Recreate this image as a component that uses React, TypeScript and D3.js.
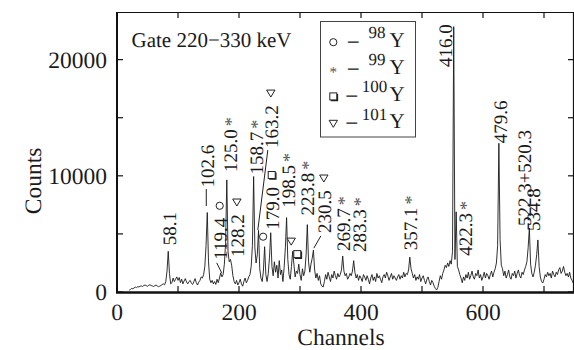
import React, { useEffect, useRef } from 'react';
import * as d3 from 'd3';

// spectrum: counts every 2nd channel, starting at channel 20
const firstChannel = 20;
const channelStep = 2;
const counts = [
  // 20-38
  150, 220, 300, 280, 350, 420, 380, 460, 430, 500,
  // 40-58
  520, 480, 560, 600, 540, 500, 580, 620, 560, 520,
  // 60-78
  480, 540, 600, 520, 460, 500, 560, 640, 700, 620,
  // 80-98
  900, 1800, 3500, 1600, 700, 800, 1200, 900, 1100, 1300,
  // 100-118
  1000, 1250, 800, 1100, 700, 950, 1150, 850, 700, 900,
  // 120-138
  1000, 750, 650, 900, 1150, 800, 600, 850, 1000, 1300,
  // 140-158
  1200, 1500, 2200, 4000, 6840, 2600, 1100, 800, 1000, 700,
  // 160-178
  900, 650, 1100, 800, 1200, 1650, 1300, 1500, 2400, 4200,
  // 180-198
  9650, 3500, 2600, 2800, 2300, 1400, 900, 700, 1000, 600,
  // 200-218
  800, 1100, 700, 500, 900, 1200, 800, 1000, 1300, 1500,
  // 220-238
  2200, 4000, 9940, 3800, 2500, 3200, 5300, 2000, 1200, 900,
  // 240-258
  1800, 3900, 1500, 900, 1600, 3000, 5100, 2200, 1400, 2600,
  // 260-278
  1700, 2300, 1200, 2700, 1500, 1900, 900, 2100, 3800, 6400,
  // 280-298
  2800, 1500, 1100, 2200, 3500, 2400, 1300, 1800, 1600, 2400,
  // 300-318
  1500, 1000, 2000, 1400, 1800, 3200, 5800, 2600, 1700, 2400,
  // 320-338
  2900, 3600, 1900, 1200, 1600, 1000, 1400, 700, 500, 430,
  // 340-358
  900, 1500, 1100, 1700, 1300, 900, 1500, 1200, 1800, 1400,
  // 360-378
  1100, 1600, 1300, 1500, 1900, 3100, 1800, 1400, 1600, 1100,
  // 380-398
  1300, 1600, 1400, 1800, 2700, 1700, 1200, 1500, 1000, 1400,
  // 400-418
  1200, 900, 1500, 1300, 1000, 1400, 1100, 700, 1200, 1500,
  // 420-438
  1000, 1300, 900, 1600, 1200, 1400, 1100, 800, 1300, 1500,
  // 440-458
  1200, 1700, 1400, 1000, 1300, 1600, 1100, 1400, 1200, 1000,
  // 460-478
  1300, 1500, 1100, 1400, 1200, 1700, 1300, 1600, 1500, 1900,
  // 480-498
  3000, 2000, 1600, 1200, 1500, 1000, 1300, 1100, 1500, 900,
  // 500-518
  1200, 1400, 1000, 700, 1100, 1300, 900, 600, 1000, 800,
  // 520-538
  500, 300, 170, 400, 900, 1400, 1100, 1600, 1900, 2300,
  // 540-558
  2100, 2500, 2200, 2700, 2400, 3500, 22840, 2800, 6900, 2200,
  // 560-578
  1900, 1500, 1200, 800, 1300, 1000, 1500, 1200, 1700, 1100,
  // 580-598
  1400, 1800, 1300, 1100, 1600, 1400, 1900, 1200, 1500, 1000,
  // 600-618
  1300, 1700, 1200, 1600, 1400, 1100, 1500, 1800, 1300, 1700,
  // 620-638
  2000, 2500, 4000, 12800, 4500, 2300, 2000, 1400, 1800, 1200,
  // 640-658
  1500, 1900, 1300, 1100, 1600, 1400, 1800, 1200, 1600, 1900,
  // 660-678
  1400, 1200, 1700, 1500, 1900, 2200, 2600, 3800, 5500, 2400,
  // 680-698
  1600, 1300, 1700, 2300, 3200, 4480, 2200, 1300, 900, 770,
  // 700-718
  1100, 1500, 1300, 1700, 1400, 1600, 1200, 1800, 1500, 1300,
  // 720-738
  1700, 1500, 1900, 2100, 1600, 1800, 2200, 1700, 1400, 1600,
  // 740-748
  1300, 1700, 1200, 1000, 770,
];

const xMajorTicks = [0, 200, 400, 600];
const xMinorTicks = [100, 300, 500, 700];
const yMajorTicks = [0, 10000, 20000];
const yMinorTicks = [5000, 15000];

// labelled peaks (energy in keV), their channel and isotope mark
const peakLabels = ['58.1', '102.6', '119.4', '125.0', '128.2', '158.7', '163.2', '179.0', '198.5', '223.8',
  '230.5', '269.7', '283.3', '357.1', '416.0', '422.3', '479.6', '522.3+520.3', '534.8'];
const peakChannels = [84, 148, 170, 180, 186, 224, 232, 252, 278, 312, 322, 370, 388, 480, 552, 556, 626, 676, 690];
const peakMarks = ['', '', 'circle', 'asterisk', 'triangle', 'asterisk', 'triangle', 'square', 'asterisk', 'asterisk',
  'triangle', 'asterisk', 'asterisk', 'asterisk', '', 'asterisk', '', '', ''];

// marks without a label
const looseMarkChannels = [242, 288, 298];
const looseMarks = ['circle', 'triangle', 'square'];

const legendMarks = ['circle', 'asterisk', 'square', 'triangle'];
const legendMasses = ['98', '99', '100', '101'];

const gateText = 'Gate 220\u2212330 keV';

// label placement relative to the peak top (layout only)
const labelNudge: [number, number][] = [
  [7.7, -6], [6.6, -25], [6, -13], [10, -8], [13.4, -2.5], [9, -2], [19.3, -82.4], [8, -3], [8, -10], [6.5, -9],
  [17.4, -17.2], [7, -5], [12, -8.6], [7, -7], [-2, 40.4], [15.5, 44], [8, 0], [2, -2], [2.5, -9],
];
const leaderLines: Record<string, [number, number, number, number]> = {
  '102.6': [-1, -23.5, -1, -6.5],
  '119.4': [-4, -10, 1, 0],
  '163.2': [9.3, -80.4, -0.7, -0.4],
  '230.5': [7.4, -14.2, 0.4, -2],
};

const FONT = '"Liberation Serif", "Times New Roman", Times, serif';

const drawMark = (g: any, kind: string, cx: number, cy: number) => {
  if (kind === 'circle') {
    g.append('circle').attr('cx', cx).attr('cy', cy).attr('r', 3.6)
      .attr('fill', '#fff').attr('stroke', '#222').attr('stroke-width', 1);
  } else if (kind === 'square') {
    g.append('rect').attr('x', cx - 3.5).attr('y', cy - 3.5).attr('width', 7).attr('height', 7)
      .attr('fill', '#fff').attr('stroke', '#222').attr('stroke-width', 1);
    g.append('path').attr('d', `M${cx - 2.5},${cy + 4.2}H${cx + 4.2}V${cy - 2.5}`)
      .attr('fill', 'none').attr('stroke', '#222').attr('stroke-width', 1.3);
  } else if (kind === 'triangle') {
    g.append('path').attr('d', `M${cx - 4.2},${cy - 3.2}L${cx + 4.2},${cy - 3.2}L${cx},${cy + 3.8}Z`)
      .attr('fill', '#fff').attr('stroke', '#222').attr('stroke-width', 1);
  } else if (kind === 'asterisk') {
    g.append('text').attr('x', cx).attr('y', cy + 8).attr('text-anchor', 'middle')
      .style('font-family', FONT).attr('font-size', 15).attr('fill', '#555').text('*');
  }
};

const SpectrumChart = () => {
  const ref = useRef<SVGSVGElement | null>(null);

  useEffect(() => {
    const svg = d3.select(ref.current);
    svg.selectAll('*').remove();
    svg.style('font-family', FONT).style('text-rendering', 'geometricPrecision');

    const left = 117, right = 574, top = 12, bottom = 292;
    const x = d3.scaleLinear().domain([0, 750]).range([left, right + 0.5]);
    const y = d3.scaleLinear().domain([0, 24100]).range([bottom, top]);

    const countAt = (ch: number) => counts[(ch - firstChannel) / channelStep];
    const addText = (parent: any, size: number) =>
      parent.append('text').style('font-family', FONT).attr('font-size', size).attr('fill', '#1a1a1a');

    // spectrum
    const line = d3.line<number>()
      .x((_, i) => x(firstChannel + i * channelStep))
      .y((d) => y(d));
    svg.append('path').datum(counts)
      .attr('d', line)
      .attr('fill', 'none')
      .attr('stroke', '#1a1a1a')
      .attr('stroke-width', 0.9)
      .attr('stroke-linejoin', 'round');

    // frame
    svg.append('line').attr('x1', left).attr('x2', right).attr('y1', top + 0.5).attr('y2', top + 0.5)
      .attr('stroke', '#111').attr('stroke-width', 1.2);
    svg.append('line').attr('x1', right - 0.5).attr('x2', right - 0.5).attr('y1', top).attr('y2', bottom)
      .attr('stroke', '#111').attr('stroke-width', 1.2);
    svg.append('line').attr('x1', left).attr('x2', left).attr('y1', top).attr('y2', bottom + 1)
      .attr('stroke', '#111').attr('stroke-width', 2);
    svg.append('line').attr('x1', left - 1).attr('x2', right).attr('y1', bottom + 0.5).attr('y2', bottom + 0.5)
      .attr('stroke', '#111').attr('stroke-width', 2.4);

    // ticks, pointing inward on all four sides
    const tickLen = 6;
    [...xMajorTicks, ...xMinorTicks].forEach((t) => {
      const xx = x(t);
      svg.append('line').attr('x1', xx).attr('x2', xx).attr('y1', bottom).attr('y2', bottom - tickLen)
        .attr('stroke', '#111').attr('stroke-width', 1.2);
      svg.append('line').attr('x1', xx).attr('x2', xx).attr('y1', top).attr('y2', top + tickLen)
        .attr('stroke', '#111').attr('stroke-width', 1.2);
    });
    [...yMajorTicks, ...yMinorTicks].forEach((t) => {
      const yy = y(t);
      svg.append('line').attr('x1', left).attr('x2', left + tickLen).attr('y1', yy).attr('y2', yy)
        .attr('stroke', '#111').attr('stroke-width', 1.2);
      svg.append('line').attr('x1', right).attr('x2', right - tickLen).attr('y1', yy).attr('y2', yy)
        .attr('stroke', '#111').attr('stroke-width', 1.2);
    });

    // tick labels
    xMajorTicks.forEach((t) => {
      addText(svg, 23.5).attr('x', x(t)).attr('y', 320).attr('text-anchor', 'middle').text(t);
    });
    yMajorTicks.forEach((t) => {
      addText(svg, 23.5).attr('x', 107).attr('y', y(t) + 8).attr('text-anchor', 'end').text(t);
    });

    // axis titles
    addText(svg, 23.5).attr('x', 341).attr('y', 345).attr('text-anchor', 'middle').text('Channels');
    addText(svg, 23.5).attr('transform', 'translate(41,181) rotate(-90)').attr('text-anchor', 'middle').text('Counts');

    // gate note
    addText(svg, 21).attr('x', 131.5).attr('y', 46.7).text(gateText);

    // peak labels
    peakLabels.forEach((label, i) => {
      const ch = peakChannels[i];
      const px = x(ch);
      const py = y(countAt(ch));
      const [dx, dy] = labelNudge[i];
      const ax = px + dx;
      const ay = py + dy;
      const g = svg.append('g').attr('transform', `translate(${ax},${ay}) rotate(-90)`);
      const t = addText(g, 19).attr('x', 0).attr('y', 0).text(label);
      const len = (t.node() as SVGTextElement).getComputedTextLength();
      const mark = peakMarks[i];
      if (mark === 'asterisk') {
        addText(g, 18).attr('x', len + 3).attr('y', 0).attr('fill', '#555').text('*');
      } else if (mark) {
        drawMark(svg, mark, ax - 7, ay - len - 12);
      }
      const lead = leaderLines[label];
      if (lead) {
        svg.append('line')
          .attr('x1', px + lead[0]).attr('y1', py + lead[1])
          .attr('x2', px + lead[2]).attr('y2', py + lead[3])
          .attr('stroke', '#222').attr('stroke-width', 1);
      }
    });

    looseMarkChannels.forEach((ch, i) => {
      drawMark(svg, looseMarks[i], x(ch) - 1.5, y(countAt(ch)) - 10);
    });

    // legend
    const lg = svg.append('g');
    lg.append('rect').attr('x', 320.5).attr('y', 21.5).attr('width', 95).attr('height', 115.5)
      .attr('fill', '#fff').attr('stroke', '#444').attr('stroke-width', 1);
    legendMarks.forEach((mark, i) => {
      const base = 46.7 + i * 27.1;
      const wide = legendMasses[i].length > 2;
      drawMark(lg, mark, 333.3, base - 4.5);
      addText(lg, 21).attr('x', wide ? 346.5 : 348).attr('y', base).text('\u2013');
      addText(lg, 17).attr('x', wide ? 387.3 : 385.5).attr('y', base - 8.5)
        .attr('text-anchor', 'end').text(legendMasses[i]);
      addText(lg, 21).attr('x', 389.5).attr('y', base).text('Y');
    });
  }, []);

  return (
    <svg
      ref={ref}
      width={574}
      height={350}
      style={{ position: 'absolute', left: 0, top: 0, display: 'block', background: '#fff' }}
    />
  );
};

export default function App() {
  return <SpectrumChart />;
}
